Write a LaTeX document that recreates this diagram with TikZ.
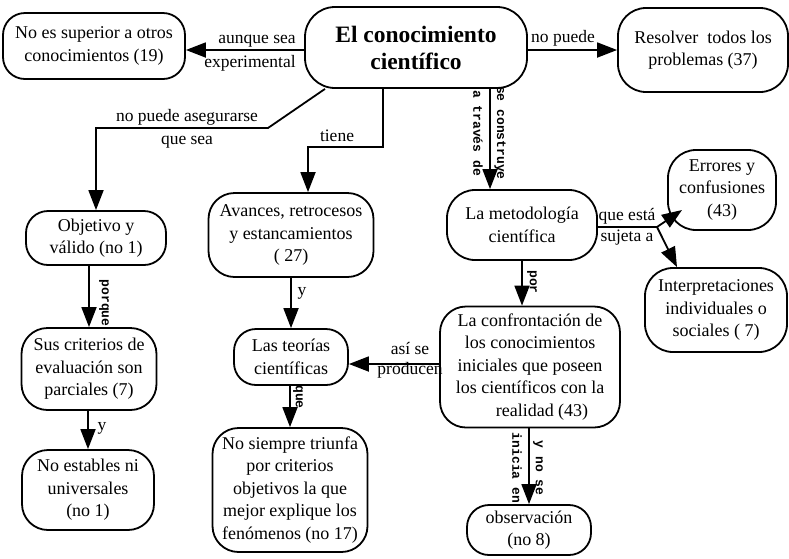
\documentclass[tikz,border=0pt]{standalone}
\usepackage{fontspec}
\setmainfont{Liberation Serif}
\newfontfamily\monob{Liberation Mono}
\usetikzlibrary{arrows.meta}
\begin{document}
\begin{tikzpicture}[x=1pt,y=-1pt,
 box/.style={draw,line width=1.8pt,rounded corners=22pt,align=center,inner sep=0pt,font=\fontsize{18}{22.5}\selectfont},
 arr/.style={line width=1.8pt,-{Triangle[length=20pt,width=15pt]}},
 lbl/.style={inner sep=0pt,font=\fontsize{17.5}{22}\selectfont},
 rlbl/.style={inner sep=0pt,rotate=-90,font=\monob\bfseries\fontsize{13}{15}\selectfont}]
\useasboundingbox (0,0) rectangle (789,558);

% nodes
\node[box,minimum width=222pt,minimum height=81pt,rounded corners=30pt,font=\bfseries\fontsize{23.5}{27}\selectfont] (main) at (416,47.5) {El conocimiento\\científico};
\node[box,minimum width=182pt,minimum height=66pt] (nosup) at (94,46) {No es superior a otros\\conocimientos (19)};
\node[box,minimum width=170pt,minimum height=84pt,rounded corners=28pt] (resolver) at (703,50) {Resolver\ \ todos los\\problemas (37)};
\node[box,minimum width=140pt,minimum height=54pt] (objetivo) at (96,238) {Objetivo y\\válido (no 1)};
\node[box,minimum width=165pt,minimum height=84pt,rounded corners=26pt] (avances) at (291,235) {Avances, retrocesos\\y estancamientos\\( 27)};
\node[box,minimum width=150pt,minimum height=70pt,rounded corners=28pt] (metod) at (522,225) {La metodología\\científica};
\node[box,minimum width=108pt,minimum height=80pt,rounded corners=28pt] (errores) at (722,190) {Errores y\\confusiones\\(43)};
\node[box,minimum width=142pt,minimum height=84pt,rounded corners=28pt] (interp) at (716,310) {Interpretaciones\\individuales o\\sociales ( 7)};
\node[box,minimum width=135pt,minimum height=82pt,rounded corners=26pt] (criterios) at (89,369) {Sus criterios de\\evaluación son\\parciales (7)};
\node[box,minimum width=114pt,minimum height=56pt] (teorias) at (291,357) {Las teorías\\científicas};
\node[box,minimum width=180pt,minimum height=121pt,rounded corners=26pt] (confront) at (530,367) {La confrontación de\\los conocimientos\\iniciales que poseen\\los científicos con la\\\hspace*{24pt}realidad (43)};
\node[box,minimum width=132pt,minimum height=80pt,rounded corners=26pt] (noest) at (88,490) {No estables ni\\universales\\(no 1)};
\node[box,minimum width=155pt,minimum height=124pt,rounded corners=26pt] (nosiempre) at (290,490) {No siempre triunfa\\por criterios\hspace*{24pt}\\objetivos la que\\mejor explique los\\fenómenos (no 17)};
\node[box,minimum width=124pt,minimum height=50pt] (observ) at (529,530) {observación\\(no 8)};

% connectors
\draw[arr] (main.west |- 0,50) -- (nosup.east |- 0,50);
\node[lbl] (l1a) at (257,41) {aunque sea};
\node[lbl] (l1b) at (250,63) {experimental};

\draw[arr] (main.east |- 0,50) -- (resolver.west |- 0,50);
\node[lbl] (l2) at (563,38) {no puede};

\draw[arr] (main.south -| 325,0) -- (268,128) -- (96,128) -- (objetivo.north);
\node[lbl] (l3a) at (187,117) {no puede asegurarse};
\node[lbl] (l3b) at (187,142) {que sea};

\draw[arr] (main.south -| 383,0) -- (383,147) -- (308,147) -- (avances.north -| 308,0);
\node[lbl] (l4) at (337,136) {tiene};

\draw[arr] (main.south -| 490,0) -- (metod.north -| 490,0);
\node[rlbl] (l5a) at (478,133) {a través de};
\node[rlbl] (l5b) at (500,133) {se construye};

\draw[arr] (objetivo.south -| criterios.north) -- (criterios.north);
\node[rlbl] (l6) at (104,303) {porque};

\draw[arr] (criterios.south -| noest.north) -- (noest.north);
\node[lbl] (l7) at (102,428) {y};

\draw[arr] (avances.south) -- (teorias.north);
\node[lbl] (l8) at (302,293) {y};

\draw[arr] (teorias.south -| nosiempre.north) -- (nosiempre.north);
\node[rlbl] (l9) at (298,397) {que};

\draw[arr] (metod.south) -- (metod.south |- confront.north);
\node[rlbl] (l10) at (532,282) {por};

\draw[arr] (confront.west |- 0,364) -- (teorias.east |- 0,364);
\node[lbl] (l11a) at (410,348) {así se};
\node[lbl] (l11b) at (410,370) {producen};

\draw[arr] (confront.south -| observ.north) -- (observ.north);
\node[rlbl] (l12a) at (517,468) {inicia en};
\node[rlbl] (l12b) at (538,468) {y no se};

\coordinate (split) at (657,227);
\coordinate (etip) at (682,210);
\draw[line width=1.8pt] (metod.east |- split) -- (split);
\draw[arr] (split) -- (etip);
\draw[arr] (split) -- (interp.north -| 677,0);
\node[lbl] (l13a) at (627,216) {que está};
\node[lbl] (l13b) at (627,238) {sujeta a};
\end{tikzpicture}
\end{document}
